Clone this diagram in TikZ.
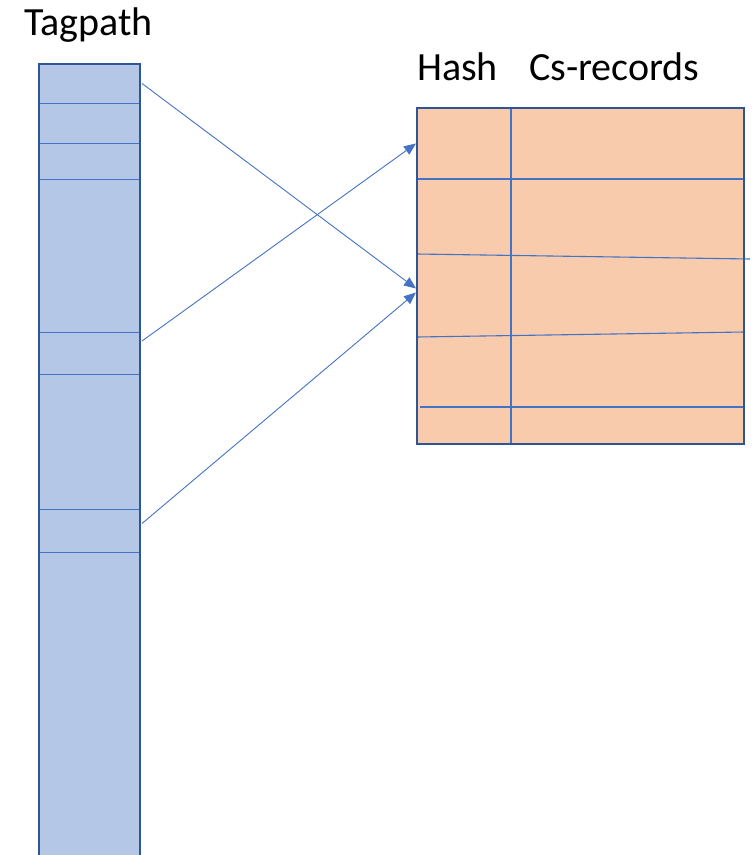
\documentclass[tikz,border=0pt]{standalone}
\usepackage{fontspec}
\setmainfont{Carlito}
\usepackage{tikz}
\usetikzlibrary{arrows.meta,positioning,fit,calc}
\definecolor{tagfill}{HTML}{B4C7E7}
\definecolor{hashfill}{HTML}{F8CBAD}
\definecolor{frameblue}{HTML}{2F5597}
\definecolor{lineblue}{HTML}{4472C4}
\tikzset{
  % Tagpath slot: light blue cell with thin blue rule
  tagcell/.style={draw=lineblue, fill=tagfill, rectangle, line width=1pt,
                  minimum width=101pt, inner sep=0pt, outer sep=0pt},
  % Hash table slot: filled only, rules drawn afterwards
  hashcell/.style={fill=hashfill, rectangle, inner sep=0pt, outer sep=0pt},
  % Outer frames
  frame/.style={draw=frameblue, rectangle, line width=2.2pt, inner sep=0pt},
  rule/.style={draw=lineblue, line width=1.1pt},
  % Pointer from a tag slot into the hash table
  link/.style={-{Triangle[length=12pt,width=10pt]}, draw=lineblue, line width=0.9pt},
  heading/.style={font=\fontsize{40}{46}\selectfont, inner sep=0pt, anchor=base west}
}
\begin{document}
\begin{tikzpicture}[x=1pt,y=-1pt]
\useasboundingbox (0,0) rectangle (753,855);

% ============== Tagpath column ==============
\node[tagcell, minimum height=39pt, anchor=north west] (t1) at (39,64) {};
\node[tagcell, minimum height=40pt, below=0pt of t1] (t2) {};
\node[tagcell, minimum height=36pt, below=0pt of t2] (t3) {};
\node[tagcell, minimum height=153pt, below=0pt of t3] (t4) {};
\node[tagcell, minimum height=42pt, below=0pt of t4] (t5) {};
\node[tagcell, minimum height=135pt, below=0pt of t5] (t6) {};
\node[tagcell, minimum height=43pt, below=0pt of t6] (t7) {};
\node[tagcell, minimum height=308pt, below=0pt of t7] (t8) {};
\node[frame, fit=(t1)(t8)] (tagpath) {};
\node[heading] (tagtitle) at (24,35) {Tagpath};

% ============== Hash table: key column + records ==============
\node[hashcell, minimum width=94pt, minimum height=71pt, anchor=north west] (k1) at (417,108) {};
\node[hashcell, minimum width=233pt, minimum height=71pt, right=0pt of k1] (r1) {};
\node[hashcell, minimum width=94pt, minimum height=77pt, below=0pt of k1] (k2) {};
\node[hashcell, minimum width=233pt, minimum height=77pt, right=0pt of k2] (r2) {};
\node[hashcell, minimum width=94pt, minimum height=79pt, below=0pt of k2] (k3) {};
\node[hashcell, minimum width=233pt, minimum height=79pt, right=0pt of k3] (r3) {};
\node[hashcell, minimum width=94pt, minimum height=72pt, below=0pt of k3] (k4) {};
\node[hashcell, minimum width=233pt, minimum height=72pt, right=0pt of k4] (r4) {};
\node[hashcell, minimum width=94pt, minimum height=37pt, below=0pt of k4] (k5) {};
\node[hashcell, minimum width=233pt, minimum height=37pt, right=0pt of k5] (r5) {};

% rules (hand drawn, so a little out of level)
\draw[rule] (k1.north east) -- (k5.south east);
\draw[rule] (k2.north west) -- (r2.north east);
\draw[rule] ([yshift=2pt]k3.north west) -- ([xshift=6pt,yshift=-3pt]r3.north east);
\draw[rule] ([yshift=-2pt]k4.north west) -- ([yshift=3pt]r4.north east);
\draw[rule] ([xshift=3pt]k5.north west) -- (r5.north east);

\node[frame, fit=(k1)(r5)] (hashtab) {};
\node[heading] (hashtitle) at (417,80) {Hash};
\node[heading] (rectitle) at (529,80) {Cs-records};

% ============== Pointers ==============
\draw[link] ([xshift=2pt]t1.east) -- ([xshift=-1pt,yshift=7pt]k3.west);
\draw[link] ([xshift=2pt,yshift=12pt]t5.east) -- ([xshift=-1pt]k1.west);
\draw[link] ([xshift=2pt,yshift=7pt]t7.east) -- ([xshift=-1pt,yshift=3pt]k3.west);

\end{tikzpicture}
\end{document}
